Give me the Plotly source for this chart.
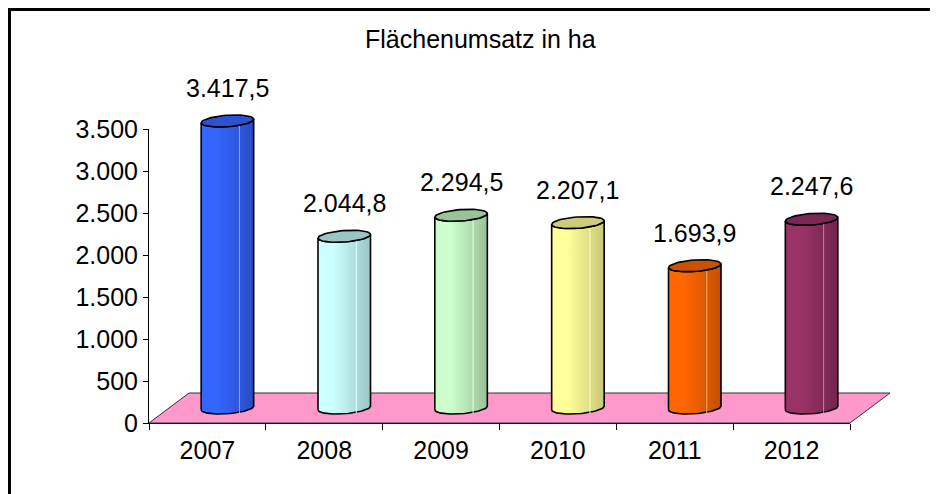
import numpy as np
import plotly.graph_objects as go

# ---------------- data ----------------
years = ["2007", "2008", "2009", "2010", "2011", "2012"]
values = [3417.5, 2044.8, 2294.5, 2207.1, 1693.9, 2247.6]
y_tick_vals = [0, 500, 1000, 1500, 2000, 2500, 3000, 3500]
title_text = "Flächenumsatz in ha"

color_light = ["#3366FF", "#CCFFFF", "#CCFFCC", "#FFFF99", "#FF6600", "#993366"]
color_dark = ["#2A4CC4", "#99C6C6", "#99C299", "#C8C878", "#C35000", "#74254E"]
color_cap = ["#2C51D2", "#99C5C5", "#99C499", "#CCCC7A", "#C85200", "#7A2852"]
color_hi = ["#8FA8FF", "#E6FFFF", "#E6FFE6", "#FFFFCC", "#FFAA77", "#C97AA2"]

def de_fmt(v):
    s = f"{v:,.1f}"
    return s.replace(",", "X").replace(".", ",").replace("X", ".")

# ---------------- geometry (pixels -> data via axis scales) ----------------
W, H = 938, 494
OFF = 8                          # page body margin
PX_L, PX_R, PX_T, PX_B = 149 - OFF, 850 - OFF, 129 - OFF, 423 - OFF
YMAX = 3500
n = len(years)
sx = (PX_R - PX_L) / n          # px per category unit
sy = (PX_B - PX_T) / YMAX       # px per value unit

x2_range = [-0.5 - PX_L / sx, -0.5 + (W - PX_L) / sx]
y2_range = [-(H - PX_B) / sy, PX_B / sy]

DEPTH_X, DEPTH_Y = 40, 30       # floor depth (px)
R, RD = 25, 10                  # cylinder radius (px), depth radius (px)
KX, KY = 0.8, 0.6               # oblique projection of depth

FONT_FAMILY = "Liberation Sans, Arial, sans-serif"

fig = go.Figure()

# invisible bars defining the category frame axis
fig.add_trace(go.Bar(x=years, y=values, marker=dict(color="rgba(0,0,0,0)", line=dict(width=0)),
                     opacity=0, hoverinfo="skip", showlegend=False, xaxis="x", yaxis="y"))

# floor
fx = [-0.5, n - 0.5, n - 0.5 + DEPTH_X / sx, -0.5 + DEPTH_X / sx, -0.5]
fy = [0, 0, DEPTH_Y / sy, DEPTH_Y / sy, 0]
fig.add_trace(go.Scatter(x=fx, y=fy, mode="lines", fill="toself",
                         fillcolor="#FF99CC", line=dict(color="#333333", width=1),
                         hoverinfo="skip", showlegend=False, xaxis="x2", yaxis="y2"))

t0 = np.arctan2(KX * RD, R)

def ell(cx, cy, t):
    X = cx + (R * np.cos(t) + KX * RD * np.sin(t)) / sx
    Y = cy + (KY * RD * np.sin(t)) / sy
    return X, Y

annotations = []
for i, v in enumerate(values):
    cx = i + (DEPTH_X / 2) / sx
    cy0 = (DEPTH_Y / 2) / sy
    cy1 = v + (DEPTH_Y / 2) / sy
    tf = np.linspace(np.pi + t0, 2 * np.pi + t0, 40)
    bx, by = ell(cx, cy0, tf)
    tx, ty = ell(cx, cy1, tf[::-1])
    body_x = np.concatenate([bx, tx, bx[:1]])
    body_y = np.concatenate([by, ty, by[:1]])
    fig.add_trace(go.Scatter(
        x=body_x, y=body_y, mode="lines", fill="toself",
        fillgradient=dict(type="horizontal",
                          colorscale=[[0, color_light[i]], [0.3, color_light[i]],
                                      [1, color_dark[i]]]),
        line=dict(color="#000000", width=1.6),
        hoverinfo="skip", showlegend=False, xaxis="x2", yaxis="y2"))
    # highlight line
    hx = cx + 12 / sx
    fig.add_trace(go.Scatter(
        x=[hx, hx], y=[cy0 - 5 / sy, cy1 - 5 / sy], mode="lines",
        line=dict(color=color_hi[i], width=1),
        hoverinfo="skip", showlegend=False, xaxis="x2", yaxis="y2"))
    # top cap
    ta = np.linspace(0, 2 * np.pi, 60)
    cxs, cys = ell(cx, cy1, ta)
    fig.add_trace(go.Scatter(
        x=cxs, y=cys, mode="lines", fill="toself", fillcolor=color_cap[i],
        line=dict(color="#000000", width=1.6),
        hoverinfo="skip", showlegend=False, xaxis="x2", yaxis="y2"))
    annotations.append(dict(x=cx, y=cy1, xref="x2", yref="y2", text=de_fmt(v),
                            showarrow=False, yshift=33, xanchor="center", yanchor="middle",
                            font=dict(size=25, color="#000000", family=FONT_FAMILY)))

annotations.append(dict(x=(480 - OFF) / W, y=1 - (39 - OFF) / H, xref="paper", yref="paper",
                        text=title_text, showarrow=False, xanchor="center", yanchor="middle",
                        font=dict(size=25, color="#000000", family=FONT_FAMILY)))

font = dict(family=FONT_FAMILY, size=25, color="#000000")

fig.update_layout(
    template="none",
    width=W, height=H, autosize=False,
    margin=dict(l=0, r=0, t=0, b=0, pad=0, autoexpand=False),
    paper_bgcolor="white", plot_bgcolor="rgba(0,0,0,0)",
    separators=",.",
    font=font,
    showlegend=False,
    xaxis=dict(domain=[PX_L / W, PX_R / W], anchor="y", type="category",
               categoryorder="array", categoryarray=years, range=[-0.5, n - 0.5],
               tickson="boundaries", ticks="outside", ticklen=6, tickcolor="#000000",
               ticklabelstandoff=5,
               showline=True, linecolor="#000000", linewidth=1, automargin=False,
               showgrid=False, zeroline=False, tickfont=font, fixedrange=True),
    yaxis=dict(domain=[1 - PX_B / H, 1 - PX_T / H], anchor="x", range=[0, YMAX],
               tickvals=y_tick_vals, tickformat=",", ticks="outside", ticklen=5,
               tickcolor="#000000", showline=True, linecolor="#000000", linewidth=1,
               automargin=False,
               showgrid=False, zeroline=False, tickfont=font, fixedrange=True),
    xaxis2=dict(domain=[0, 1], anchor="y2", range=x2_range, visible=False,
                automargin=False, fixedrange=True),
    yaxis2=dict(domain=[0, 1], anchor="x2", range=y2_range, visible=False,
                automargin=False, fixedrange=True),
    annotations=annotations,
    shapes=[dict(type="rect", xref="paper", yref="paper",
                 x0=(9 - OFF) / W, x1=1.2, y0=-0.2, y1=1 - (9 - OFF) / H,
                 line=dict(color="#000000", width=4))],
)

fig.write_html("out.html")
